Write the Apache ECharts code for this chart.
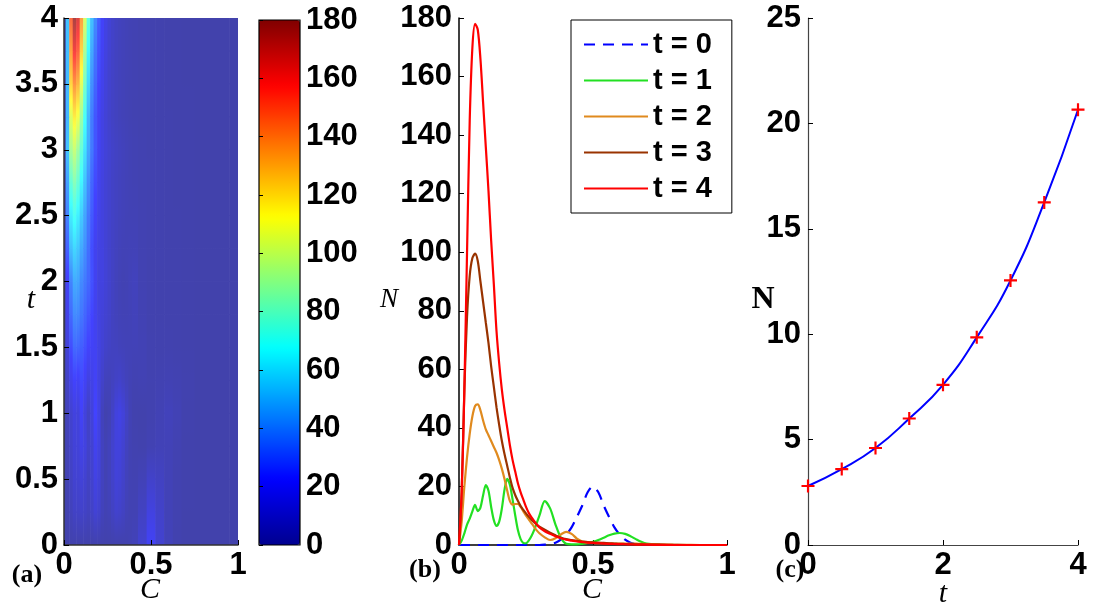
<!DOCTYPE html>
<html><head><meta charset="utf-8">
<script src="https://cdn.jsdelivr.net/npm/echarts@6/dist/echarts.min.js"></script>
<style>html,body{margin:0;padding:0;background:#fff}#c{width:1094px;height:610px}</style>
</head><body><div id="c"></div>
<script>
// ---------------- data ----------------
// (a) heat map grid: C sample points, t rows, values N(C,t)
const heatC = [0,0.02,0.04,0.06,0.08,0.10,0.12,0.14,0.16,0.18,0.20,0.22,0.24,0.26,0.28,0.30,0.32,0.34,0.36,0.38,0.40,0.45,0.50,0.55,0.60,0.65,0.70,0.80,0.90,1.0];
const heatT = [0,0.25,0.5,0.75,1,1.25,1.5,1.75,2,2.25,2.5,2.75,3,3.25,3.5,3.75,4];
const heatRow_t0_00 = [0,0,0,0,0,0,0,0,0,0,0,0,0,0,0,0,0.1,0.3,0.8,1.8,3.5,9.8,20,9.8,3.5,0.8,0.1,0,0,0];
const heatRow_t0_25 = [0,1,4,7,7,8,7,5,7,11,9,4,2,3,6,9,8,6,3,2,2,6,14,8,3,1,0.1,0,0,0];
const heatRow_t0_50 = [0,2,6,10,10,12,10,6,9,15,12,5,2,4,8,12,11,8,4,2,1.5,3,8,6,3,1,0.2,0,0,0];
const heatRow_t0_75 = [0,3,8,12,12,16,14,8,10,18,14,5,2,4,9,13,13,10,5,2,1,0.5,2,3,3,1.5,0.3,0,0,0];
const heatRow_t1_00 = [0,4,9.5,13.8,12.5,20.5,13,6.5,12.5,22.6,15.5,4,0.6,2,7,13.5,15.3,12.5,7,2.5,0.4,0.2,1,2.4,4,2.5,0.5,0,0,0];
const heatRow_t1_25 = [0,7,17,22,20,24,20,14,16,20,14,8,4,3.5,5,7,8,6,4,2.5,1.5,2,1.2,1.5,2,1.5,0.8,0.1,0,0];
const heatRow_t1_50 = [0,12,25,32,31,29,26,22,20,19,15,11,8,6.5,5.5,5,4,3.5,3,3,3,2.5,1,0.8,0.8,0.6,0.3,0.1,0,0];
const heatRow_t1_75 = [0,16,32,40,39,35,31,27,23,18,14,12,10,8,5.5,4,3,2.5,2.5,3,3.8,2,0.8,0.6,0.5,0.5,0.3,0.1,0,0];
const heatRow_t2_00 = [0,20,38,47.5,46,39.5,35.5,31.5,26,18.5,13.8,14,11.5,8.8,6.2,4,2.6,1.8,2.2,3.5,4.5,1.6,0.7,0.6,0.5,0.5,0.35,0.1,0,0];
const heatRow_t2_25 = [0,30,52,58,54,47,41,33,25,18,15,14,11,8.5,6.5,4.8,3.5,2.8,2.8,3,3,1.6,1,0.7,0.5,0.4,0.3,0.1,0,0];
const heatRow_t2_50 = [0,38,63,70,64,55,46,36,28,21,16.5,13.5,11,8.8,7,5.5,4.3,3.4,2.8,2.5,2.4,1.5,1,0.7,0.5,0.4,0.2,0.05,0,0];
const heatRow_t2_75 = [0,45,76,84,77,65,53,41,31,24,18,14,11,9,7,5.7,4.6,3.7,3,2.4,2,1.4,1,0.7,0.5,0.3,0.2,0.05,0,0];
const heatRow_t3_00 = [0,53,92,99.5,90,76,61,47,35.5,27,19.5,15,12,9.7,7.8,6.3,5.2,4.2,3.3,2.5,2,1.3,0.9,0.7,0.4,0.3,0.15,0.05,0,0];
const heatRow_t3_25 = [0,50,104,117,110,90,69,50,36,27,20,15,11.5,8.5,6.5,5,3.8,3,2.4,1.9,1.4,1,0.8,0.6,0.4,0.3,0.2,0,0,0];
const heatRow_t3_50 = [0,51,122,138,130,106,80,58,41,31,23,17,12.5,9,7,5.2,4,3.2,2.5,2,1.5,1,0.7,0.5,0.3,0.2,0.1,0,0,0];
const heatRow_t3_75 = [0,52,135,160,150,122,92,66,47,35,26,19,14,10,7.5,5.5,4.3,3.4,2.7,2.1,1.6,1,0.7,0.5,0.3,0.2,0.1,0,0,0];
const heatRow_t4_00 = [0,53,148,178,166,136,104,75,53,40,29,21,15.5,11,8.2,6,4.7,3.8,3,2.3,1.8,1.1,0.7,0.5,0.3,0.2,0.1,0,0,0];
const heatRows = [heatRow_t0_00,heatRow_t0_25,heatRow_t0_50,heatRow_t0_75,heatRow_t1_00,heatRow_t1_25,heatRow_t1_50,heatRow_t1_75,heatRow_t2_00,heatRow_t2_25,heatRow_t2_50,heatRow_t2_75,heatRow_t3_00,heatRow_t3_25,heatRow_t3_50,heatRow_t3_75,heatRow_t4_00];

// (b) distributions N(C) at t = 0..4
const curveC = [0,0.01,0.02,0.03,0.04,0.05,0.06,0.07,0.08,0.09,0.1,0.11,0.12,0.13,0.14,0.15,0.16,0.17,0.18,0.19,0.2,0.21,0.22,0.23,0.24,0.25,0.26,0.27,0.28,0.29,0.3,0.32,0.34,0.36,0.38,0.4,0.42,0.44,0.46,0.48,0.5,0.52,0.54,0.56,0.58,0.6,0.62,0.64,0.66,0.68,0.7,0.75,0.8,0.85,0.9,0.95,1];
const nT0 = [0,0,0,0,0,0,0,0,0,0,0,0,0,0,0,0,0,0,0,0,0,0,0,0,0,0,0,0,0,0,0,0.1,0.3,0.8,1.8,3.5,6,9.6,13.5,18,20,18,13.5,9.6,6,3.5,1.8,0.8,0.3,0.1,0,0,0,0,0,0,0];
const nT1 = [0,1.5,4,7,9,11.5,13.7,11.6,12.8,17,20.5,18.5,13,8.5,6.5,8,12.5,19,22.6,20.5,15.5,10,5,2,0.7,0.6,1.5,3,5,7.5,10,15,12.5,7,2.5,0.4,0.2,0.2,0.4,0.7,1.1,1.7,2.5,3.3,3.9,4.1,3.8,3,2,1.1,0.5,0.05,0,0,0,0,0];
const nT2 = [0,8,20,30,38,44,47.5,48,46,42.5,39.5,37.5,35.5,33.5,31.5,29,26,22.5,18.5,15,13.8,14,14,13,11.5,10,8.8,7.5,6.2,5,4,2.6,1.7,2.3,3.6,4.5,3.8,2.2,1.2,0.8,0.7,0.6,0.6,0.5,0.5,0.5,0.5,0.5,0.45,0.4,0.35,0.2,0.1,0.05,0,0,0];
const nT3 = [0,18,53,78,92,98,99.5,97,90,83,76,69,61,54,47,41,35.5,31,27,23,19.5,17,15,13.3,12,10.8,9.7,8.7,7.8,7,6.3,5.2,4.2,3.3,2.5,2,1.7,1.4,1.2,1,0.9,0.8,0.7,0.6,0.5,0.4,0.35,0.3,0.25,0.2,0.15,0.1,0.05,0,0,0,0];
const nT4 = [0,18,53,100,145,170,178,176,166,151,136,121,104,89,73,62,53,46,40,34,29,25,21,18,15.5,13,11,9.5,8.2,7,6,4.7,3.8,3,2.3,1.8,1.5,1.2,1,0.8,0.7,0.6,0.5,0.4,0.35,0.3,0.25,0.2,0.15,0.1,0.1,0.05,0,0,0,0,0];
const legendNames = ['t = 0','t = 1','t = 2','t = 3','t = 4'];

// (c) total N(t)
const timeC = [0,0.5,1,1.5,2,2.5,3,3.5,4];
const totalN = [2.8,3.6,4.6,6.0,7.6,9.85,12.55,16.25,20.65];

// ---------------- chart ----------------
const jet = ['#00008F','#0000FF','#0080FF','#00FFFF','#80FF80','#FFFF00','#FF8000','#FF0000','#800000'];
const jetRGB = jet.map(h => [parseInt(h.slice(1,3),16), parseInt(h.slice(3,5),16), parseInt(h.slice(5,7),16)]);
const VMAX = 180, WHITEN = 0.26;
function heatColor(v) {
  let s = Math.max(0, Math.min(1, v / VMAX)) * (jetRGB.length - 1);
  const i = Math.min(jetRGB.length - 2, Math.floor(s)), f = s - i;
  const a = jetRGB[i], b = jetRGB[i+1];
  const rgb = [0,1,2].map(k => a[k] + (b[k] - a[k]) * f);
  return 'rgb(' + rgb.map(c => Math.round(c + (255 - c) * WHITEN)).join(',') + ')';
}
const tickFont = {fontFamily:'Liberation Sans', fontWeight:'bold', fontSize:31, color:'#000'};

const cEdges = heatC.map((c, i) => [
  i === 0 ? 0 : (heatC[i-1] + c) / 2,
  i === heatC.length - 1 ? 1 : (c + heatC[i+1]) / 2
]);
const heatData = [];
for (let j = 0; j < heatT.length - 1; j++) {
  for (let i = 0; i < heatC.length; i++) {
    heatData.push([cEdges[i][0], cEdges[i][1], heatT[j], heatT[j+1], heatRows[j][i], heatRows[j+1][i]]);
  }
}

const lineColors = ['#0000FF','#22E022','#E08A1E','#993300','#FF0000'];
const curves = [nT0, nT1, nT2, nT3, nT4];
const axisBase = (extra) => Object.assign({
  type:'value', splitLine:{show:false},
  axisTick:{inside:true, length:5, lineStyle:{color:'#000'}}
}, extra);

const chart = echarts.init(document.getElementById('c'), null, {renderer:'canvas'});
const option = {
  animation: false,
  backgroundColor: '#fff',
  grid: [
    {left:64, top:18, width:174, height:527},
    {left:259, top:20, width:41, height:525, show:true, borderColor:'#000', borderWidth:1.2, backgroundColor:'transparent', z:10},
    {left:459, top:18, width:268, height:527},
    {left:808, top:18, width:270, height:527}
  ],
  xAxis: [
    axisBase({gridIndex:0, min:0, max:1, interval:0.5, z:10,
      axisLine:{show:true, lineStyle:{color:'#333', width:1.5}}, axisLabel:Object.assign({margin:5}, tickFont)}),
    {gridIndex:1, type:'value', min:0, max:1, show:false},
    axisBase({gridIndex:2, min:0, max:1, interval:0.5,
      axisLine:{show:true, lineStyle:{color:'#000', width:1.5}}, axisLabel:Object.assign({margin:5}, tickFont)}),
    axisBase({gridIndex:3, min:0, max:4, interval:2,
      axisLine:{show:true, lineStyle:{color:'#444', width:1.2}}, axisLabel:Object.assign({margin:5}, tickFont)})
  ],
  yAxis: [
    axisBase({gridIndex:0, min:0, max:4, interval:0.5, z:10,
      axisLine:{show:true, lineStyle:{color:'#333', width:1.5}}, axisLabel:Object.assign({margin:6}, tickFont)}),
    axisBase({gridIndex:1, min:0, max:180, interval:20, position:'right', z:11,
      axisLine:{show:false}, axisTick:{show:false}, axisLabel:Object.assign({margin:6}, tickFont)}),
    axisBase({gridIndex:2, min:0, max:180, interval:20,
      axisLine:{show:true, lineStyle:{color:'#000', width:1.5}}, axisLabel:Object.assign({margin:7}, tickFont)}),
    axisBase({gridIndex:3, min:0, max:25, interval:5,
      axisLine:{show:true, lineStyle:{color:'#444', width:1.2}}, axisLabel:Object.assign({margin:7}, tickFont)}),
    axisBase({gridIndex:1, min:0, max:180, interval:20, position:'left', z:11,
      axisLine:{show:false}, axisTick:{show:true, inside:true, length:4, lineStyle:{color:'#000'}}, axisLabel:{show:false}})
  ],
  visualMap: {
    type:'continuous', min:0, max:VMAX, seriesIndex:0, dimension:4,
    inRange:{color:jet}, calculable:false, hoverLink:false,
    left:259, top:20, itemWidth:41, itemHeight:525, padding:0, text:null, z:2,
    orient:'vertical'
  },
  legend: {
    data: legendNames, orient:'vertical', left:571, top:20,
    itemWidth:64, itemHeight:28, itemGap:7, itemTextGap:8,
    padding:[10,20,10,12], backgroundColor:'#fff', borderColor:'#000', borderWidth:1, borderRadius:0,
    itemStyle:{opacity:0},
    textStyle:{fontFamily:'Liberation Sans', fontWeight:'bold', fontSize:29, color:'#000'}
  },
  series: [
    {
      type:'custom', xAxisIndex:0, yAxisIndex:0, clip:true,
      encode:{x:[0,1], y:[2,3]},
      data: heatData,
      renderItem: function (params, api) {
        const p0 = api.coord([api.value(0), api.value(3)]);
        const p1 = api.coord([api.value(1), api.value(2)]);
        const vLow = api.value(4), vHigh = api.value(5);
        const stops = [];
        for (let s = 0; s <= 6; s++) {
          const f = s / 6;
          stops.push({offset: f, color: heatColor(vHigh + (vLow - vHigh) * f)});
        }
        return {type:'rect',
          shape:{x:p0[0], y:p0[1] - 0.4, width:p1[0] - p0[0] + 0.6, height:p1[1] - p0[1] + 0.8},
          style:{fill:{type:'linear', x:0, y:0, x2:0, y2:1, colorStops:stops, global:false}}};
      }
    }
  ].concat(curves.map((arr, k) => ({
    name: legendNames[k], type:'line', xAxisIndex:2, yAxisIndex:2,
    data: curveC.map((c, i) => [c, arr[i]]),
    smooth: 0.3, showSymbol:false, symbol:'none',
    lineStyle:{color:lineColors[k], width:2.2, type: k === 0 ? [11, 8] : 'solid'},
    itemStyle:{color:lineColors[k]}, z: 2 + k
  }))).concat([
    {
      name:'N(t)', type:'line', xAxisIndex:3, yAxisIndex:3,
      data: timeC.map((t, i) => [t, totalN[i]]),
      smooth: true,
      symbol:'path://M5,0H7V5H12V7H7V12H5V7H0V5H5Z', symbolSize:13, showAllSymbol:true,
      lineStyle:{color:'#0000FF', width:2}, itemStyle:{color:'#FF0000'}
    }
  ]),
  graphic: [
    {type:'text', x:27, y:575, style:{text:'(a)', font:'bold 26px "Liberation Serif"', textAlign:'center', textVerticalAlign:'middle', fill:'#000'}},
    {type:'text', x:150, y:590, style:{text:'C', font:'italic 30px "Liberation Serif"', textAlign:'center', textVerticalAlign:'middle', fill:'#000'}},
    {type:'text', x:31, y:300, style:{text:'t', font:'italic 30px "Liberation Serif"', textAlign:'center', textVerticalAlign:'middle', fill:'#000'}},
    {type:'text', x:425, y:570, style:{text:'(b)', font:'bold 26px "Liberation Serif"', textAlign:'center', textVerticalAlign:'middle', fill:'#000'}},
    {type:'text', x:592, y:590, style:{text:'C', font:'italic 30px "Liberation Serif"', textAlign:'center', textVerticalAlign:'middle', fill:'#000'}},
    {type:'text', x:389, y:300, style:{text:'N', font:'italic 27px "Liberation Serif"', textAlign:'center', textVerticalAlign:'middle', fill:'#000'}},
    {type:'text', x:790, y:570, style:{text:'(c)', font:'bold 26px "Liberation Serif"', textAlign:'center', textVerticalAlign:'middle', fill:'#000'}},
    {type:'text', x:943, y:594, style:{text:'t', font:'italic 30px "Liberation Serif"', textAlign:'center', textVerticalAlign:'middle', fill:'#000'}},
    {type:'text', x:763, y:300, style:{text:'N', font:'bold 32px "Liberation Serif"', textAlign:'center', textVerticalAlign:'middle', fill:'#000'}}
  ]
};
chart.setOption(option);
</script>
</body></html>
